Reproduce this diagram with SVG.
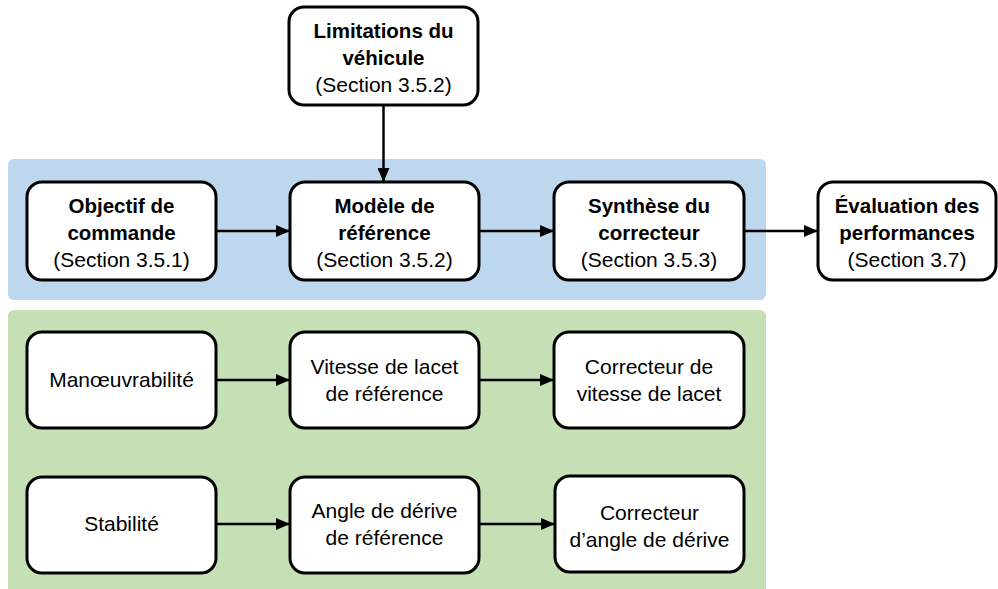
<svg xmlns="http://www.w3.org/2000/svg" width="998" height="589" viewBox="0 0 998 589">
<style>
.box{fill:#fff;stroke:#000;stroke-width:3}
text{font-family:"Liberation Sans",Arial,sans-serif;font-size:21px;fill:#000;text-anchor:middle}
.b{font-weight:bold;font-size:20.5px}
.c line{stroke:#000;stroke-width:2.5;marker-end:url(#ah)}
</style>
<defs>
<marker id="ah" markerWidth="14" markerHeight="12" refX="13" refY="6" orient="auto" markerUnits="userSpaceOnUse" viewBox="0 0 14 12">
<path d="M0,0 L14,6 L0,12 z" fill="#000"/>
</marker>
</defs>
<rect x="8" y="159" width="758" height="141" rx="6" fill="#BDD7EE"/>
<rect x="8" y="310" width="758" height="285" rx="6" fill="#C5E0B4"/>
<g id="limitations"><rect class="box" x="289" y="7" width="189" height="98" rx="15"/>
<text class="b" x="383.5" y="38">Limitations du</text><text class="b" x="383.5" y="65">véhicule</text><text x="383.5" y="92">(Section 3.5.2)</text></g>
<g id="objectif"><rect class="box" x="27" y="182" width="189" height="98" rx="15"/>
<text class="b" x="121.5" y="213">Objectif de</text><text class="b" x="121.5" y="240">commande</text><text x="121.5" y="267">(Section 3.5.1)</text></g>
<g id="modele"><rect class="box" x="290" y="182" width="189" height="98" rx="15"/>
<text class="b" x="384.5" y="213">Modèle de</text><text class="b" x="384.5" y="240">référence</text><text x="384.5" y="267">(Section 3.5.2)</text></g>
<g id="synthese"><rect class="box" x="554" y="182" width="190" height="98" rx="15"/>
<text class="b" x="649" y="213">Synthèse du</text><text class="b" x="649" y="240">correcteur</text><text x="649" y="267">(Section 3.5.3)</text></g>
<g id="evaluation"><rect class="box" x="818" y="182" width="178" height="98" rx="15"/>
<text class="b" x="907" y="213">Évaluation des</text><text class="b" x="907" y="240">performances</text><text x="907" y="267">(Section 3.7)</text></g>
<g id="manoeuvrabilite"><rect class="box" x="27" y="332" width="189" height="96" rx="15"/>
<text x="121.5" y="387">Manœuvrabilité</text></g>
<g id="vitesse-ref"><rect class="box" x="290" y="332" width="189" height="96" rx="15"/>
<text x="384.5" y="374">Vitesse de lacet</text><text x="384.5" y="401">de référence</text></g>
<g id="correcteur-vitesse"><rect class="box" x="554" y="332" width="190" height="96" rx="15"/>
<text x="649" y="374">Correcteur de</text><text x="649" y="401">vitesse de lacet</text></g>
<g id="stabilite"><rect class="box" x="27" y="477" width="189" height="96" rx="15"/>
<text x="121.5" y="531">Stabilité</text></g>
<g id="angle-ref"><rect class="box" x="290" y="477" width="189" height="96" rx="15"/>
<text x="384.5" y="518">Angle de dérive</text><text x="384.5" y="545">de référence</text></g>
<g id="correcteur-angle"><rect class="box" x="555" y="476" width="189" height="96" rx="15"/>
<text x="649.5" y="520">Correcteur</text><text x="649.5" y="547">d’angle de dérive</text></g>
<g class="c" id="connectors">
<line x1="383.5" y1="106" x2="383.5" y2="181"/>
<line x1="217" y1="231" x2="289" y2="231"/>
<line x1="480" y1="231" x2="553" y2="231"/>
<line x1="745" y1="231" x2="817" y2="231"/>
<line x1="217" y1="380" x2="289" y2="380"/>
<line x1="480" y1="380" x2="553" y2="380"/>
<line x1="217" y1="524" x2="289" y2="524"/>
<line x1="480" y1="524" x2="554" y2="524"/>
</g>
</svg>
